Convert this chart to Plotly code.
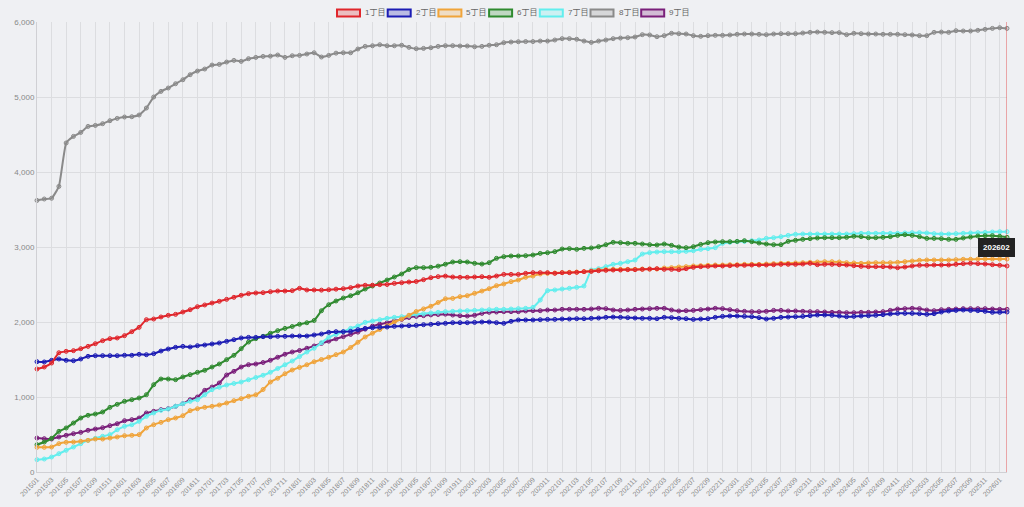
import plotly.graph_objects as go

# ---- categories (monthly, 201501 .. 202602)
months = []
for y in range(2015, 2027):
    for m in range(1, 13):
        if y == 2026 and m > 2:
            break
        months.append(f"{y}{m:02d}")

tick_labels = months[::2]

# ---- series values
chome1 = [1373, 1400, 1453, 1590, 1609, 1618, 1644, 1675, 1711, 1751, 1778, 1787, 1818, 1871, 1929, 2031, 2040, 2067, 2089, 2102,
          2133, 2164, 2204, 2227, 2253, 2276, 2302, 2329, 2356, 2378, 2387, 2391, 2404, 2413, 2413, 2418, 2449, 2427, 2427,
          2425, 2430, 2438, 2444, 2458, 2480, 2490, 2491, 2498,
          2500, 2515, 2524, 2533, 2540, 2564, 2591, 2605, 2612,
          2600, 2596, 2596, 2600, 2604, 2596, 2613, 2635, 2635, 2635, 2649, 2658, 2658, 2658, 2649, 2658, 2658, 2662, 2671, 2675,
          2684, 2689, 2693, 2693, 2698, 2698, 2702, 2706, 2711,
          2702, 2702, 2698, 2711, 2729, 2738, 2742, 2747, 2747, 2751, 2756, 2756, 2760, 2760, 2760, 2764, 2769, 2769, 2769, 2773,
          2782, 2764, 2769, 2769, 2764, 2760, 2751, 2742, 2738, 2738, 2738, 2733, 2724, 2733, 2747, 2756, 2756, 2760, 2760, 2760,
          2769, 2778, 2782, 2778, 2773, 2764, 2756, 2747]

chome2 = [1471, 1467, 1489, 1507, 1489, 1484, 1507, 1542, 1551, 1551, 1551, 1551, 1556, 1556,
          1569, 1564, 1578, 1613, 1640, 1662, 1675, 1667, 1684, 1693, 1707, 1720, 1742, 1764, 1787, 1795, 1795, 1804, 1804, 1809,
          1809, 1813, 1813, 1813, 1827,
          1840, 1862, 1871, 1871, 1875, 1898, 1915, 1924, 1929, 1933, 1942, 1947, 1951, 1955, 1964, 1969, 1978, 1982,
          1991, 1991, 1991, 1995, 2000, 2000, 1991, 1982, 2009, 2027, 2027, 2027, 2031, 2035, 2035, 2040, 2040, 2044, 2044, 2049,
          2053, 2062, 2066, 2062, 2058, 2053, 2049, 2049, 2044,
          2062, 2058, 2049, 2044, 2035, 2040, 2044, 2062, 2075, 2080, 2080, 2075, 2071, 2058, 2040, 2049, 2062, 2066, 2071, 2075,
          2084, 2093, 2093, 2089, 2080, 2071, 2075, 2080, 2084, 2089, 2098, 2107, 2115, 2115, 2115, 2111, 2102, 2111, 2133, 2147,
          2155, 2160, 2155, 2151, 2142, 2129, 2129, 2133]

chome5 = [329, 329, 333, 378, 396, 400, 409, 422, 440, 440, 453, 467, 484, 489, 498, 587, 631, 662, 698, 720, 751, 818, 844,
          862, 876, 893, 920, 951, 978, 1009, 1030,
          1100, 1200, 1250, 1310, 1360, 1395, 1430, 1470,
          1500, 1530, 1565, 1600, 1660, 1730, 1800, 1850, 1900, 1950, 2000, 2040, 2090, 2140, 2175, 2210, 2260, 2310,
          2315, 2338, 2351, 2382, 2413, 2444, 2484, 2507, 2538, 2560, 2596, 2613, 2640, 2649, 2653, 2658, 2662, 2666, 2671, 2680,
          2693, 2698, 2702, 2702, 2702, 2702, 2706, 2706, 2706,
          2720, 2724, 2733, 2738, 2747, 2751, 2756, 2760, 2760, 2764, 2764, 2769, 2769, 2769, 2773, 2778, 2782, 2782, 2787, 2791,
          2796, 2800, 2804, 2804, 2800, 2791, 2787, 2782, 2787, 2791, 2791, 2791, 2796, 2804, 2813, 2822, 2827, 2827, 2827, 2827,
          2831, 2836, 2836, 2840, 2840, 2840, 2840, 2840]

chome6 = [364, 400, 449, 542, 587, 653, 720, 756, 773, 800, 862, 902, 942, 964, 987, 1031, 1164, 1240, 1240, 1231, 1267, 1298,
          1329, 1356, 1400, 1440, 1498, 1556, 1644, 1733, 1778, 1809, 1850, 1885, 1915, 1940, 1970, 1990,
          2020, 2150, 2230, 2280, 2320, 2350, 2390, 2440, 2480, 2520, 2560, 2600, 2640, 2700, 2725, 2725, 2730, 2745, 2770,
          2800, 2804, 2800, 2782, 2773, 2791, 2849, 2871, 2880, 2880, 2884, 2893, 2915, 2924, 2938, 2973, 2978, 2969, 2982, 2987,
          3004, 3031, 3062, 3058, 3049, 3049, 3040, 3031, 3027,
          3040, 3022, 3000, 2991, 3004, 3035, 3058, 3067, 3071, 3071, 3075, 3084, 3071, 3053, 3040, 3031, 3031, 3075, 3089, 3102,
          3111, 3120, 3124, 3124, 3124, 3129, 3142, 3138, 3124, 3124, 3129, 3138, 3155, 3164, 3155, 3138, 3115, 3115, 3111, 3102,
          3102, 3120, 3133, 3147, 3151, 3151, 3142, 3129]

chome7 = [164, 173, 200, 244, 289, 333, 378, 422, 449, 476, 498, 564, 609, 631, 676, 742, 787, 822, 840, 876, 911, 942, 964,
          1031, 1098,
          1130, 1160, 1180, 1200, 1230, 1260, 1290, 1330, 1380, 1430, 1480, 1540, 1600, 1650,
          1724, 1795, 1835, 1871, 1915, 1947, 1995, 2013, 2031, 2049, 2062, 2071, 2084, 2102, 2111, 2120, 2129, 2138, 2142, 2147,
          2151, 2155, 2160, 2164, 2169, 2169, 2173, 2178, 2182, 2195, 2293, 2418, 2427, 2440, 2449, 2462, 2480, 2693, 2711, 2738,
          2769, 2782, 2804, 2826, 2906, 2924, 2933,
          2938, 2938, 2938, 2942, 2951, 2969, 2978, 2991, 3049, 3062, 3071, 3075, 3084, 3093, 3115, 3124, 3138, 3155, 3169, 3173,
          3173, 3173, 3173, 3173, 3173, 3173, 3178, 3182, 3182, 3182, 3182, 3182, 3182, 3187, 3191, 3191, 3187, 3178, 3173, 3173,
          3178, 3182, 3187, 3191, 3195, 3200, 3204, 3204]

chome8 = [3621, 3640, 3650, 3808, 4387, 4475, 4528, 4608, 4621, 4644, 4684, 4715, 4733, 4737, 4760, 4853, 5000, 5075, 5120,
          5177, 5230, 5297, 5346, 5373, 5426, 5435, 5466, 5488, 5475, 5511, 5528, 5541, 5545, 5560, 5528, 5550, 5555, 5573, 5590,
          5533, 5555, 5585, 5590, 5590, 5640, 5675, 5683, 5697, 5683, 5683, 5690, 5662, 5644, 5648, 5657, 5675, 5684, 5684, 5680,
          5680, 5670, 5675, 5690, 5697, 5724, 5733, 5737,
          5739, 5739, 5746, 5746, 5760, 5778, 5778, 5770, 5746, 5728, 5746, 5760, 5778, 5786, 5791, 5800, 5831, 5827, 5804, 5818,
          5849, 5844, 5840, 5818, 5809, 5818, 5822, 5822, 5827, 5836, 5840, 5840, 5836, 5831, 5840, 5844, 5844, 5844, 5853, 5862,
          5866, 5862, 5858, 5858, 5831, 5849, 5844, 5840, 5840, 5836, 5836, 5836, 5831, 5827, 5818, 5818, 5862, 5866, 5862, 5884,
          5880, 5880, 5889, 5902, 5915, 5924, 5915]

chome9 = [453, 444, 440, 467, 489, 511, 529, 556, 573, 591, 618, 644, 684, 698, 720, 787, 809, 831, 844, 876, 911, 964, 1000,
          1089, 1133, 1187, 1293, 1342, 1400, 1431, 1440, 1460, 1490, 1530, 1570, 1600,
          1620, 1650, 1680, 1715, 1745, 1775, 1805, 1835, 1865, 1905, 1945, 1970, 1990, 2015, 2035, 2060, 2075, 2085, 2095, 2100,
          2105,
          2093, 2084, 2080, 2089, 2115, 2129, 2133, 2138, 2138, 2138, 2147, 2151, 2151, 2160, 2160, 2169, 2169, 2169, 2169, 2173,
          2182, 2178, 2160, 2155, 2160, 2169, 2173, 2178, 2182,
          2182, 2160, 2147, 2151, 2155, 2164, 2173, 2182, 2178, 2164, 2151, 2142, 2138, 2138, 2142, 2155, 2155, 2147, 2147, 2142,
          2138, 2138, 2133, 2129, 2129, 2124, 2124, 2129, 2129, 2133, 2138, 2155, 2173, 2178, 2182, 2178, 2160, 2151, 2164, 2169,
          2173, 2178, 2178, 2178, 2178, 2173, 2169, 2169]

series_names = ["1丁目", "2丁目", "5丁目", "6丁目", "7丁目", "8丁目", "9丁目"]
series_values = [chome1, chome2, chome5, chome6, chome7, chome8, chome9]
series_colors = ["#e0262c", "#1c1cb4", "#f0a43a", "#2f8a2f", "#62eeee", "#8a8a8a", "#7a1f7a"]
series_fills = ["rgba(224,38,44,0.35)", "rgba(28,28,180,0.35)", "rgba(240,164,58,0.35)", "rgba(47,138,47,0.35)",
                "rgba(98,238,238,0.35)", "rgba(138,138,138,0.35)", "rgba(122,31,122,0.35)"]

for vals in series_values:
    assert len(vals) == len(months), len(vals)

FONT = "Liberation Sans, Arial, Noto Sans CJK JP, sans-serif"
BG = "#eff0f3"
W, H = 1024, 507
ML, MR, MT, MB = 37, 17, 22, 35
PW, PH = W - ML - MR, H - MT - MB

def px_x(px):
    return (px - ML) / PW

def px_y(py):
    return (H - MB - py) / PH

last_idx = len(months) - 1

fig = go.Figure()
# draw in reverse so the first dataset ends on top (as in the reference)
for name, vals, col, fill in reversed(list(zip(series_names, series_values, series_colors, series_fills))):
    fig.add_trace(go.Scatter(
        x=months, y=vals, name=name, mode="lines+markers",
        line=dict(color=col, width=2, shape="spline", smoothing=0.4),
        marker=dict(size=4, color=fill, line=dict(color=col, width=1)),
        cliponaxis=False, showlegend=False, hoverinfo="skip",
    ))

shapes = []
annotations = []
# custom legend (boxes + labels) like the reference
leg_x0 = 337
step = 50.7
for k, (name, col, fill) in enumerate(zip(series_names, series_colors, series_fills)):
    x0 = leg_x0 + k * step
    shapes.append(dict(type="rect", xref="paper", yref="paper",
                       x0=px_x(x0), x1=px_x(x0 + 23), y0=px_y(16.5), y1=px_y(9.5),
                       line=dict(color=col, width=2), fillcolor=fill.replace("0.35", "0.25"), layer="above"))
    annotations.append(dict(xref="paper", yref="paper", x=px_x(x0 + 26), y=px_y(13),
                            text=name, showarrow=False, xanchor="left", yanchor="middle",
                            font=dict(size=8, color="#666", family=FONT)))

# hover crosshair at the last month + tooltip (category axes use serial numbers)
shapes.append(dict(type="line", xref="x", yref="paper", x0=last_idx, x1=last_idx, y0=0, y1=1,
                   line=dict(color="#e25b5b", width=1), layer="above"))
annotations.append(dict(x=last_idx, y=3000, xref="x", yref="y", text="<b>" + months[-1] + "</b>",
                        showarrow=False, xanchor="center", yanchor="middle", xshift=-11,
                        bgcolor="#222222", bordercolor="#222222", borderpad=4,
                        font=dict(size=8, color="white", family=FONT)))

fig.update_layout(
    width=W, height=H,
    margin=dict(l=ML, r=MR, t=MT, b=MB, autoexpand=False),
    paper_bgcolor=BG, plot_bgcolor=BG,
    font=dict(family=FONT, size=8, color="#777"),
    shapes=shapes, annotations=annotations,
    showlegend=False, hovermode=False,
)
fig.update_xaxes(
    type="category", categoryorder="array", categoryarray=months,
    range=[0, last_idx], automargin=False,
    tickmode="array", tickvals=tick_labels, ticktext=tick_labels, tickangle=-45,
    tickfont=dict(size=7, color="#888"),
    showgrid=True, gridcolor="#dcdde0", gridwidth=1,
    showline=True, linecolor="#d0d0d4", ticks="", ticklen=0,
)
fig.update_yaxes(
    range=[0, 6000], dtick=1000, tickformat=",", automargin=False,
    tickfont=dict(size=8, color="#888"),
    showgrid=True, gridcolor="#dcdde0", gridwidth=1,
    zeroline=False, showline=True, linecolor="#d0d0d4", ticks="",
)

page_js = ("document.body.style.margin='0';document.body.style.overflow='hidden';"
           "document.body.style.background='" + BG + "';")
fig.write_html("out.html", post_script=page_js, config={"displayModeBar": False})
